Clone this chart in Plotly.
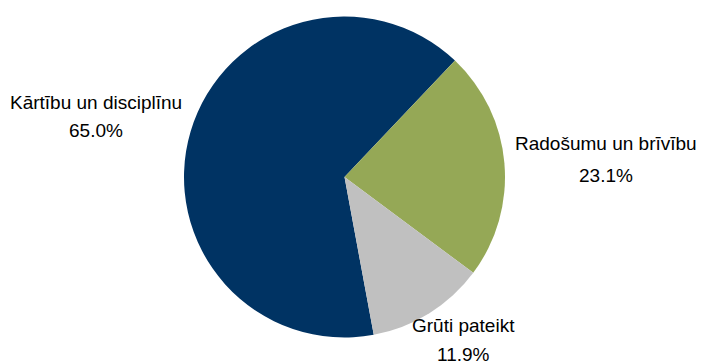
import plotly.graph_objects as go

categories = ["Kārtību un disciplīnu", "Radošumu un brīvību", "Grūti pateikt"]
values = [65.0, 23.1, 11.9]
colors = ["#003363", "#95A856", "#C0C0C0"]

W, H = 703, 364
cx, cy, r = 344.5, 177.0, 160.5

# label placement (pixel centres of name line and percent line), layout only
label_pos = [(96, 102, 130), (606, 144, 175), (463, 325, 354)]

fig = go.Figure(go.Pie(
    labels=categories,
    values=values,
    sort=False,
    direction="clockwise",
    rotation=169.5,
    marker=dict(colors=colors, line=dict(width=0)),
    textinfo="none",
    domain=dict(x=[(cx - r) / W, (cx + r) / W], y=[1 - (cy + r) / H, 1 - (cy - r) / H]),
    showlegend=False,
    hoverinfo="label+percent",
))

font = dict(family="Liberation Sans, Arial, sans-serif", size=19, color="#000000")
for cat, val, (px, y1, y2) in zip(categories, values, label_pos):
    for txt, py in ((cat, y1), (f"{val:.1f}%", y2)):
        fig.add_annotation(
            x=px / W, y=1 - py / H, xref="paper", yref="paper",
            text=txt, showarrow=False, xanchor="center", yanchor="middle",
            font=font,
        )

fig.update_layout(
    width=W, height=H,
    margin=dict(l=0, r=0, t=0, b=0),
    paper_bgcolor="white",
    plot_bgcolor="white",
)
fig.write_html(
    "out.html",
    config={"displayModeBar": False},
    post_script="document.body.style.margin='0';document.body.style.overflow='hidden';",
)
